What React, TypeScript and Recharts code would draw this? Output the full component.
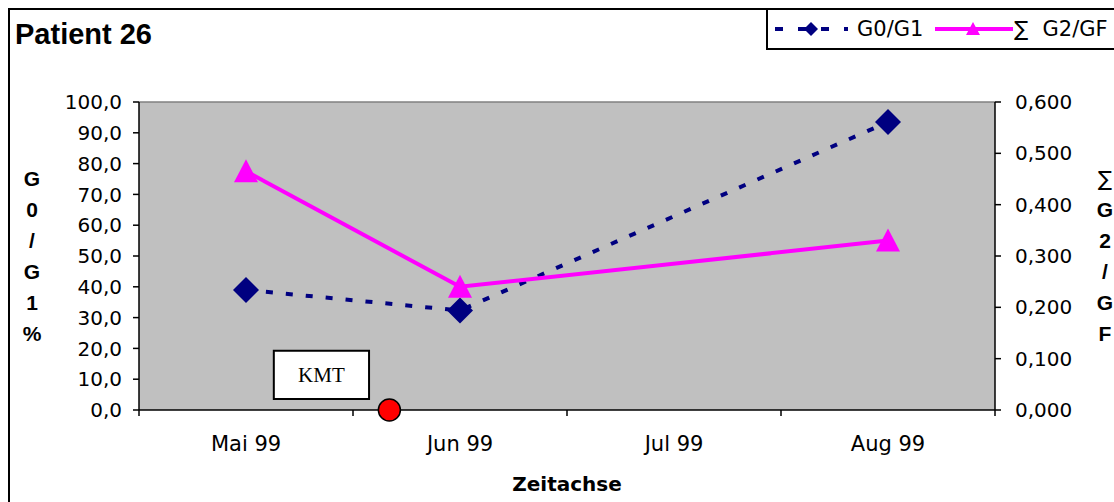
import React from 'react';
import {
  ComposedChart,
  Line,
  Scatter,
  XAxis,
  YAxis,
  CartesianGrid,
  Legend,
  ReferenceArea,
  ReferenceLine,
} from 'recharts';

// Monthly values (Jul 99 has no measurement)
const months = ['Mai 99', 'Jun 99', 'Jul 99', 'Aug 99'];
const g0g1 = [39.0, 32.3, null, 93.5];
const g2gf = [0.465, 0.24, null, 0.33];

const leftTicks = [0, 10, 20, 30, 40, 50, 60, 70, 80, 90, 100];
const rightTicks = [0, 0.1, 0.2, 0.3, 0.4, 0.5, 0.6];
const bandEdges = [-0.5, 0.5, 1.5, 2.5, 3.5];

// KMT event, placed on the month index scale
const kmtEvent = [{ idx: 0.67, val: 0 }];
const kmtBox = { x1: 0.13, x2: 0.575, y1: 3.6, y2: 19.2 };

const leftTitle = ['G', '0', '/', 'G', '1', '%'];
const rightTitle = ['∑', 'G', '2', '/', 'G', 'F'];

const rows = months.map((m, i) => ({ idx: i, month: m, g0g1: g0g1[i], g2gf: g2gf[i] }));

const NAVY = '#000080';
const MAGENTA = '#ff00ff';
const SANS = 'DejaVu Sans';
const ARIAL = 'Liberation Sans, Arial';

const tickStyle = { fontSize: 20, fontFamily: SANS, fill: '#000' };

const Diamond = (props: any) => {
  const { cx, cy, r = 13 } = props;
  if (cx == null || cy == null) return <g />;
  return (
    <polygon
      points={`${cx},${cy - r} ${cx + r},${cy} ${cx},${cy + r} ${cx - r},${cy}`}
      fill={NAVY}
    />
  );
};

const Triangle = (props: any) => {
  const { cx, cy, r = 12 } = props;
  if (cx == null || cy == null) return <g />;
  return (
    <polygon
      points={`${cx},${cy - r} ${cx + r},${cy + r - 1} ${cx - r},${cy + r - 1}`}
      fill={MAGENTA}
    />
  );
};

// axis title written as a column of single characters
const StackedTitle = ({ viewBox, chars, side }: any) => {
  const { x, y, width, height } = viewBox;
  const cx = side === 'left' ? x - 47 : x + width + 50;
  const mid = y + height / 2;
  return (
    <g>
      {chars.map((c: string, i: number) => (
        <text
          key={i}
          x={cx}
          y={mid + (i - (chars.length - 1) / 2) * 31}
          textAnchor="middle"
          dominantBaseline="central"
          fontFamily={c === '∑' ? SANS : ARIAL}
          fontSize={21}
          fontWeight={c === '∑' ? 'normal' : 'bold'}
          fill="#000"
        >
          {c}
        </text>
      ))}
    </g>
  );
};

const XTitle = ({ viewBox }: any) => {
  const { x, y, width } = viewBox;
  return (
    <text
      x={x + width / 2}
      y={y + 66}
      textAnchor="middle"
      dominantBaseline="central"
      fontFamily={SANS}
      fontSize={20}
      fontWeight="bold"
      fill="#000"
    >
      Zeitachse
    </text>
  );
};

const LegendBox = ({ payload }: any) => {
  const items = (payload || []).filter((p: any) => p.dataKey === 'g0g1' || p.dataKey === 'g2gf');
  return (
    <div
      style={{
        display: 'flex',
        alignItems: 'center',
        width: 420,
        height: 42,
        boxSizing: 'border-box',
        border: '2px solid #000',
        background: '#fff',
        paddingLeft: 7,
        fontFamily: SANS,
        fontSize: 21,
        whiteSpace: 'nowrap',
        color: '#000',
      }}
    >
      {items.map((p: any) => {
        if (p.dataKey === 'g0g1') {
          return (
            <React.Fragment key={p.dataKey}>
              <svg width={73} height={24}>
                <line x1={0} y1={12} x2={73} y2={12} stroke={NAVY} strokeWidth={4} strokeDasharray="8 15" />
                <Diamond cx={36} cy={12} r={7} />
              </svg>
              <span style={{ marginLeft: 9 }}>{p.value}</span>
            </React.Fragment>
          );
        }
        const [sym, ...rest] = String(p.value).split(' ');
        return (
          <React.Fragment key={p.dataKey}>
            <svg width={78} height={24} style={{ marginLeft: 12 }}>
              <line x1={0} y1={12} x2={78} y2={12} stroke={MAGENTA} strokeWidth={4} />
              <Triangle cx={38} cy={12} r={7} />
            </svg>
            <span style={{ marginLeft: 1 }}>{sym}</span>
            <span style={{ marginLeft: 14 }}>{rest.join(' ')}</span>
          </React.Fragment>
        );
      })}
    </div>
  );
};

export default function App() {
  return (
    <div
      style={{
        position: 'fixed',
        left: 8,
        top: 8,
        width: 1106,
        height: 494,
        overflow: 'hidden',
        borderLeft: '2px solid #000',
        borderTop: '2px solid #000',
        boxSizing: 'border-box',
        background: '#fff',
      }}
    >
      <div
        style={{
          position: 'absolute',
          left: 5,
          top: 8,
          fontFamily: ARIAL,
          fontWeight: 'bold',
          fontSize: 29,
          zIndex: 2,
        }}
      >
        Patient 26
      </div>
      <ComposedChart
        width={1104}
        height={492}
        data={rows}
        margin={{ top: 92, right: 59, bottom: 8, left: 69 }}
      >
        <CartesianGrid xAxisId="b" yAxisId="left" fill="#c0c0c0" horizontal={false} vertical={false} />
        <ReferenceLine xAxisId="b" yAxisId="left" y={100} stroke="#808080" strokeWidth={1.5} />
        <XAxis
          xAxisId="b"
          dataKey="idx"
          type="number"
          domain={[-0.5, 3.5]}
          ticks={bandEdges}
          interval={0}
          tickFormatter={() => ''}
          height={8}
          tickSize={6}
          stroke="#000"
          strokeWidth={1.5}
        />
        <XAxis
          xAxisId="m"
          dataKey="idx"
          type="number"
          domain={[-0.5, 3.5]}
          ticks={[0, 1, 2, 3]}
          interval={0}
          tickFormatter={(v: number) => months[v]}
          axisLine={false}
          tickLine={false}
          height={76}
          tickSize={6}
          tickMargin={12}
          tick={{ ...tickStyle, fontSize: 21 }}
          label={{ content: (p: any) => <XTitle {...p} /> }}
        />
        <YAxis
          yAxisId="left"
          orientation="left"
          width={60}
          domain={[0, 100]}
          ticks={leftTicks}
          interval={0}
          tickFormatter={(v: number) => v.toFixed(1).replace('.', ',')}
          tick={tickStyle}
          tickSize={6}
          tickMargin={11}
          stroke="#000"
          strokeWidth={1.5}
          label={{ content: (p: any) => <StackedTitle {...p} chars={leftTitle} side="left" /> }}
        />
        <YAxis
          yAxisId="right"
          orientation="right"
          width={60}
          domain={[0, 0.6]}
          ticks={rightTicks}
          interval={0}
          tickFormatter={(v: number) => v.toFixed(3).replace('.', ',')}
          tick={tickStyle}
          tickSize={6}
          tickMargin={14}
          stroke="#000"
          strokeWidth={1.5}
          label={{ content: (p: any) => <StackedTitle {...p} chars={rightTitle} side="right" /> }}
        />
        <ReferenceArea
          xAxisId="b"
          yAxisId="left"
          x1={kmtBox.x1}
          x2={kmtBox.x2}
          y1={kmtBox.y1}
          y2={kmtBox.y2}
          fill="#fff"
          fillOpacity={1}
          stroke="#000"
          strokeWidth={2}
          label={{ value: 'KMT', position: 'center', fontFamily: 'Liberation Serif', fontSize: 21, fill: '#000' }}
        />
        <Line
          xAxisId="m"
          yAxisId="left"
          type="linear"
          dataKey="g0g1"
          name="G0/G1"
          stroke={NAVY}
          strokeWidth={4}
          strokeDasharray="7 13"
          connectNulls
          dot={(p: any) => <Diamond key={p.index} {...p} r={13} />}
          activeDot={false}
          isAnimationActive={false}
        />
        <Line
          xAxisId="m"
          yAxisId="right"
          type="linear"
          dataKey="g2gf"
          name="∑ G2/GF"
          stroke={MAGENTA}
          strokeWidth={4}
          connectNulls
          dot={(p: any) => <Triangle key={p.index} {...p} r={12} />}
          activeDot={false}
          isAnimationActive={false}
        />
        <Scatter
          xAxisId="b"
          yAxisId="left"
          data={kmtEvent}
          dataKey="val"
          legendType="none"
          isAnimationActive={false}
          shape={(p: any) => <circle cx={p.cx} cy={p.cy} r={11} fill="#ff0000" stroke="#000" strokeWidth={1.5} />}
        />
        <Legend
          layout="horizontal"
          verticalAlign="middle"
          align="center"
          content={(p: any) => <LegendBox {...p} />}
          wrapperStyle={{ position: 'absolute', left: 756, top: -2, width: 420, height: 42 }}
        />
      </ComposedChart>
    </div>
  );
}
